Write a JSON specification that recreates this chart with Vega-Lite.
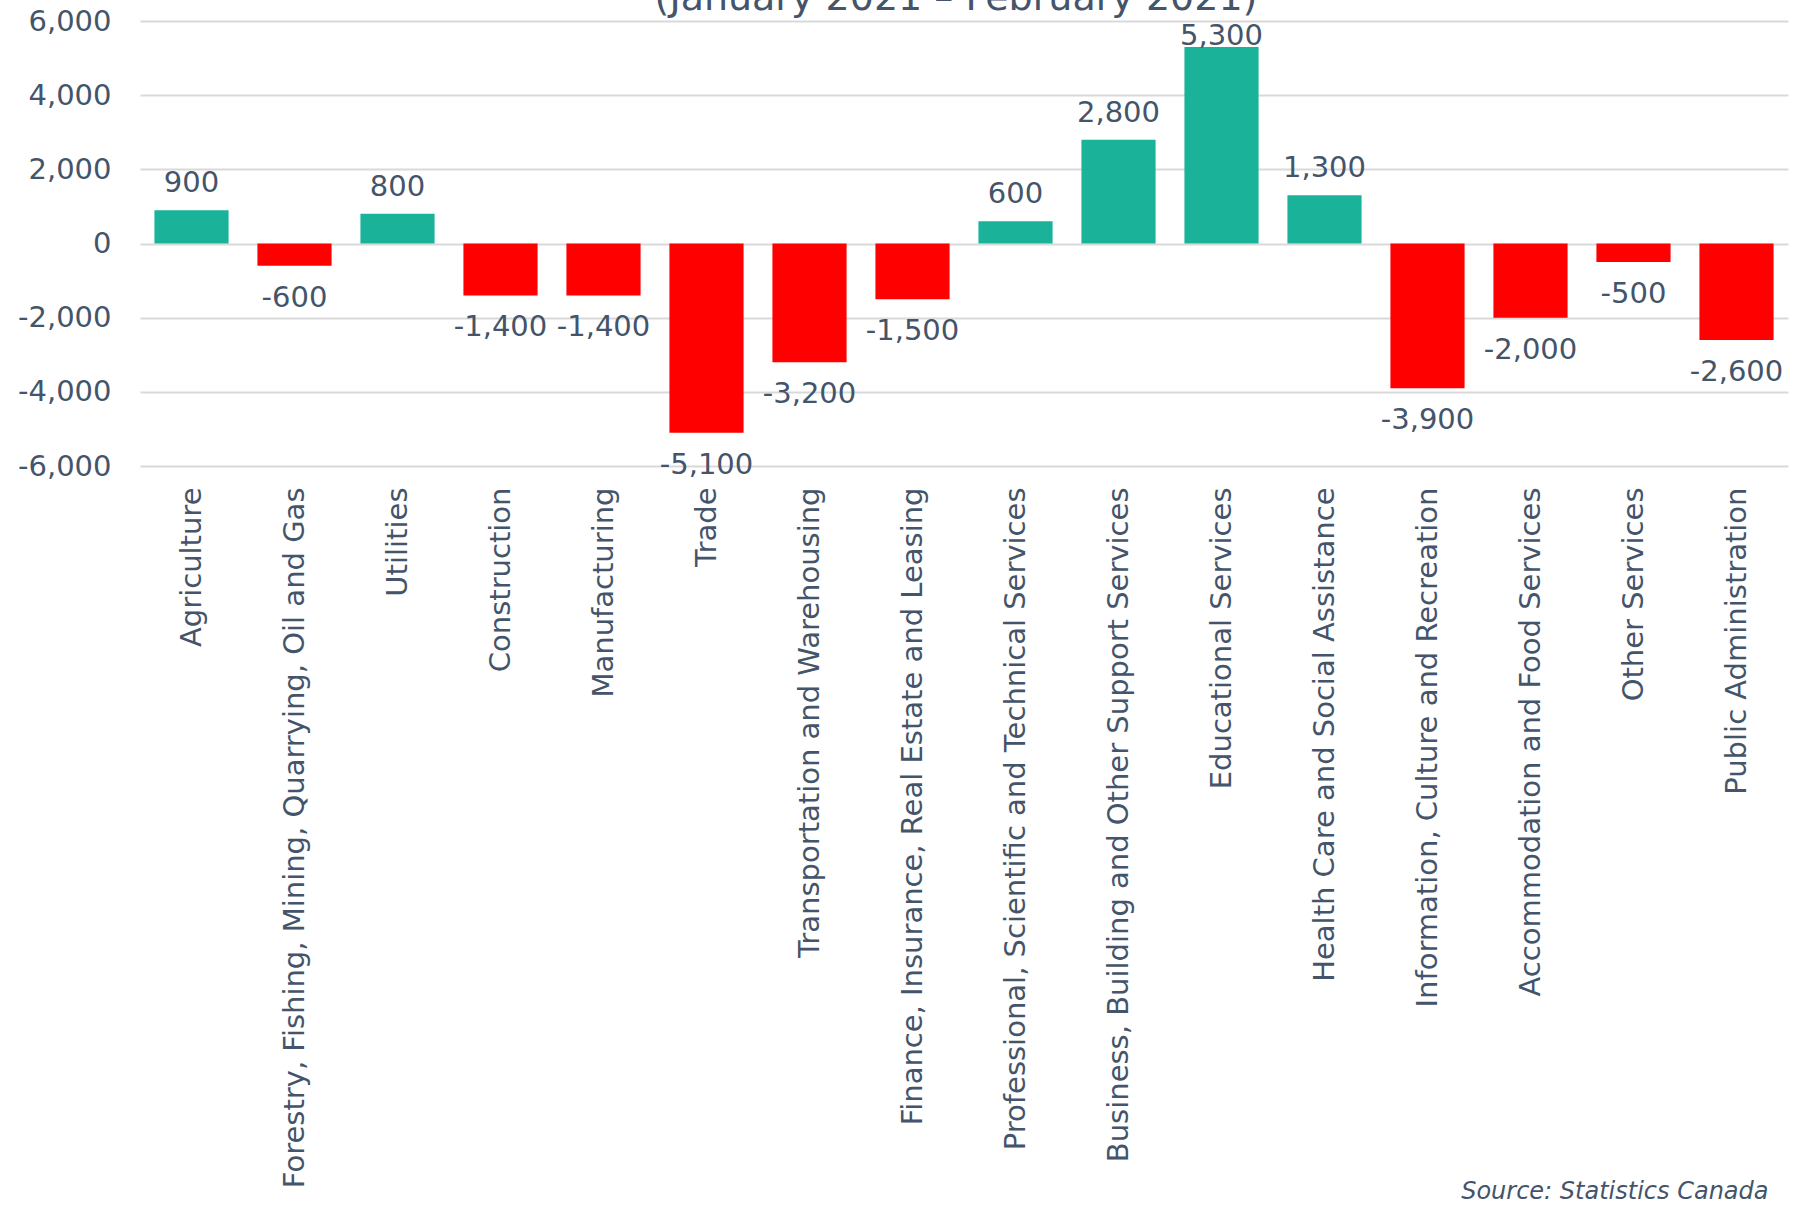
{
  "$schema": "https://vega.github.io/schema/vega-lite/v6.json",
  "autosize": {"type": "none"},
  "width": 1648,
  "height": 445,
  "padding": {"left": 140, "top": 21, "right": 12, "bottom": 743},
  "background": "white",
  "config": {
    "font": "DejaVu Sans",
    "view": {"stroke": null}
  },
  "title": {
    "text": "(January 2021 – February 2021)",
    "fontSize": 38,
    "font": "DejaVu Sans",
    "fontWeight": "normal",
    "color": "#44546a",
    "anchor": "middle",
    "baseline": "alphabetic",
    "offset": 0,
    "dy": 41,
    "dx": -8
  },
  "data": {
    "values": [
      {"industry": "Agriculture", "value": 900},
      {"industry": "Forestry, Fishing, Mining, Quarrying, Oil and Gas", "value": -600},
      {"industry": "Utilities", "value": 800},
      {"industry": "Construction", "value": -1400},
      {"industry": "Manufacturing", "value": -1400},
      {"industry": "Trade", "value": -5100},
      {"industry": "Transportation and Warehousing", "value": -3200},
      {"industry": "Finance, Insurance, Real Estate and Leasing", "value": -1500},
      {"industry": "Professional, Scientific and Technical Services", "value": 600},
      {"industry": "Business, Building and Other Support Services", "value": 2800},
      {"industry": "Educational Services", "value": 5300},
      {"industry": "Health Care and Social Assistance", "value": 1300},
      {"industry": "Information, Culture and Recreation", "value": -3900},
      {"industry": "Accommodation and Food Services", "value": -2000},
      {"industry": "Other Services", "value": -500},
      {"industry": "Public Administration", "value": -2600}
    ]
  },
  "encoding": {
    "x": {
      "field": "industry",
      "type": "nominal",
      "sort": null,
      "scale": {"paddingInner": 0.28, "paddingOuter": 0.14},
      "axis": {
        "title": "Source: Statistics Canada",
        "titleFont": "DejaVu Sans",
        "titleFontStyle": "italic",
        "titleFontWeight": "normal",
        "titleFontSize": 24,
        "titleColor": "#44546a",
        "titleAlign": "right",
        "titleAnchor": "end",
        "titleBaseline": "alphabetic",
        "titleX": 1628,
        "titleY": 732,
        "labelAngle": -90,
        "labelAlign": "right",
        "labelBaseline": "middle",
        "labelFontSize": 29,
        "labelColor": "#44546a",
        "labelPadding": 21,
        "labelLimit": 0,
        "labelOverlap": false,
        "ticks": false,
        "domain": false,
        "grid": false
      }
    },
    "y": {
      "field": "value",
      "type": "quantitative",
      "scale": {"domain": [-6000, 6000], "nice": false, "zero": true},
      "axis": {
        "title": null,
        "values": [-6000, -4000, -2000, 0, 2000, 4000, 6000],
        "labelExpr": "replace(format(datum.value, ',.0f'), '\u2212', '-')",
        "labelFontSize": 29,
        "labelColor": "#44546a",
        "labelPadding": 29,
        "ticks": false,
        "domain": false,
        "grid": true,
        "gridColor": "#d9d9d9",
        "gridWidth": 2
      }
    }
  },
  "layer": [
    {
      "mark": {"type": "bar"},
      "encoding": {
        "color": {
          "condition": {"test": "datum.value < 0", "value": "#ff0000"},
          "value": "#1ab39a"
        }
      }
    },
    {
      "transform": [
        {"calculate": "replace(format(datum.value, ',.0f'), '\u2212', '-')", "as": "label"}
      ],
      "mark": {
        "type": "text",
        "fontSize": 29,
        "color": "#44546a",
        "align": "center",
        "baseline": "alphabetic",
        "dy": {"expr": "datum.value >= 0 ? max(-18, 24 - scale('y', datum.value)) : 41"}
      },
      "encoding": {
        "text": {"field": "label", "type": "nominal"}
      }
    }
  ]
}
